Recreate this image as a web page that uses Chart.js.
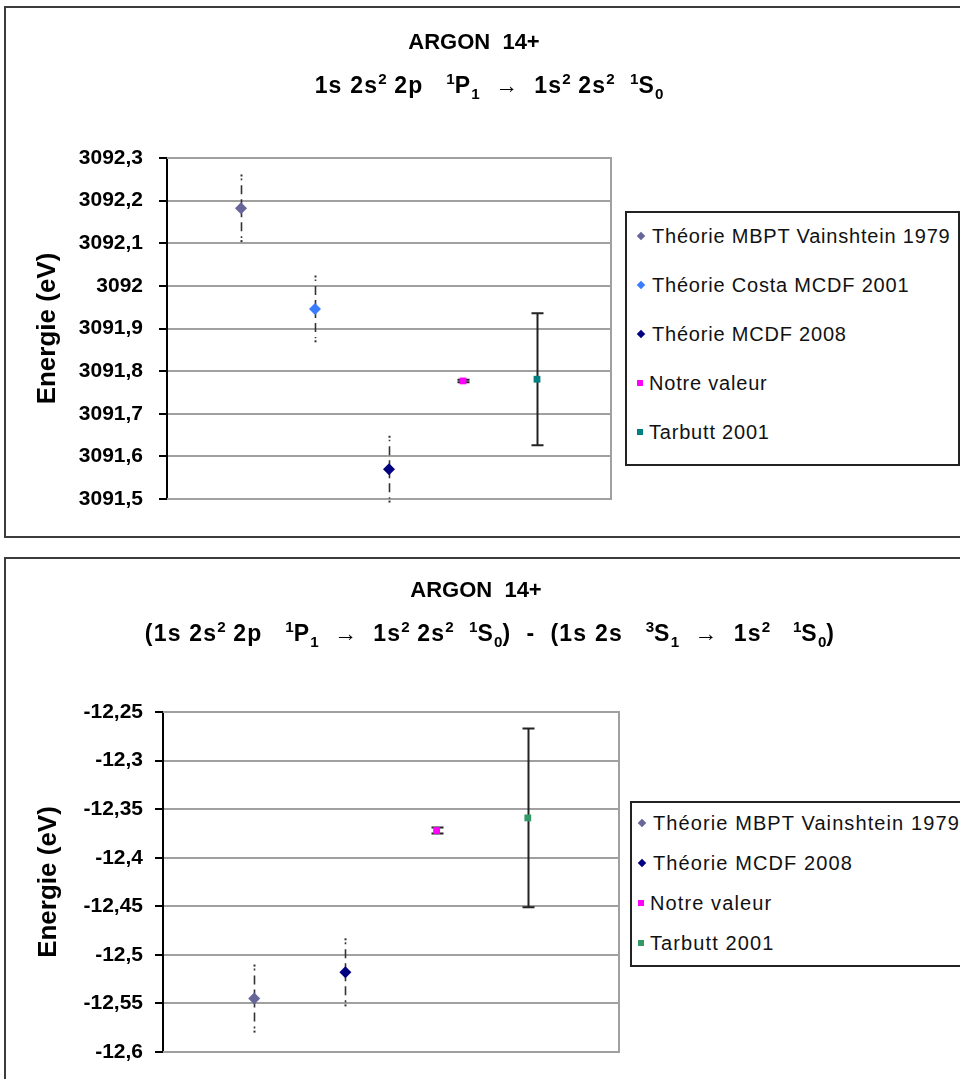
<!DOCTYPE html>
<html><head><meta charset="utf-8">
<script src="https://cdn.jsdelivr.net/npm/chart.js@4/dist/chart.umd.min.js"></script>
<style>
html,body{margin:0;padding:0;background:#fff;width:960px;height:1079px;overflow:hidden;font-family:"Liberation Sans",Arial,sans-serif;}
.box{position:absolute;left:4px;width:1000px;border:2px solid #3c3c3c;box-sizing:border-box;}
#box1{top:6px;height:532px;}
#box2{top:557px;height:580px;}
.wrap{position:absolute;left:0;width:960px;}
#w1{top:0;height:540px;}
#w2{top:540px;height:539px;}
.t{position:absolute;font-weight:bold;font-size:22px;color:#000;text-align:center;white-space:pre;line-height:24px;}
.st{font-size:23px;letter-spacing:1.2px;}
sup,sub{font-size:66%;line-height:0;position:relative;vertical-align:baseline;letter-spacing:0;}
sup{top:-0.62em;} sub{top:0.42em;}
.legend{position:absolute;border:2px solid #222;background:#fff;box-sizing:border-box;color:#111;}
.legend .row{position:absolute;white-space:nowrap;height:26px;line-height:26px;margin-top:-13px;}
.mk{display:inline-block;vertical-align:middle;margin-right:6px;position:relative;top:-2px;}
.mk.d{width:6px;height:6px;transform:rotate(45deg);margin-left:1px;margin-right:8px;}
.mk.s{width:6px;height:6px;}
</style>
</head><body>
<div class="box" id="box1"></div>
<div class="box" id="box2"></div>
<div class="wrap" id="w1"><canvas id="c1"></canvas></div>
<div class="wrap" id="w2"><canvas id="c2"></canvas></div>

<div class="t" style="left:174px;top:30px;width:600px;">ARGON  14+</div>
<div class="t st" style="left:189px;top:73px;width:600px;">1s 2s<sup>2</sup> 2p   <sup>1</sup>P<sub>1</sub>  →  1s<sup>2</sup> 2s<sup>2</sup>  <sup>1</sup>S<sub>0</sub></div>
<div class="t" style="left:176px;top:578px;width:600px;">ARGON  14+</div>
<div class="t st" style="left:40px;top:621px;width:900px;">(1s 2s<sup>2</sup> 2p   <sup>1</sup>P<sub>1</sub>  →  1s<sup>2</sup> 2s<sup>2</sup>  <sup>1</sup>S<sub>0</sub>)  -  (1s 2s   <sup>3</sup>S<sub>1</sub>  →  1s<sup>2</sup>   <sup>1</sup>S<sub>0</sub>)</div>

<div class="legend" id="lg1" style="left:625px;top:211px;width:335px;height:255px;font-size:20px;letter-spacing:0.8px;"></div>
<div class="legend" id="lg2" style="left:630px;top:801px;width:340px;height:166px;font-size:20px;letter-spacing:1.1px;"></div>

<script>
// ---------- data ----------
const topLabels = ['Théorie MBPT Vainshtein 1979','Théorie Costa MCDF 2001','Théorie MCDF 2008','Notre valeur','Tarbutt 2001'];
const topX = [1,2,3,4,5];
const topValues = [3092.182, 3091.946, 3091.570, 3091.777, 3091.781];
const topErrors = [0.077, 0.076, 0.076, 0.003, 0.155];
const topTicks = [3091.5, 3091.6, 3091.7, 3091.8, 3091.9, 3092, 3092.1, 3092.2, 3092.3];

const bottomLabels = ['Théorie MBPT Vainshtein 1979','Théorie MCDF 2008','Notre valeur','Tarbutt 2001'];
const bottomX = [1,2,3,4];
const bottomValues = [-12.545, -12.518, -12.372, -12.359];
const bottomErrors = [0.034, 0.034, 0.003, 0.092];
const bottomTicks = [-12.6, -12.55, -12.5, -12.45, -12.4, -12.35, -12.3, -12.25];

const axisTitle = 'Energie (eV)';

// ---------- styles ----------
const topColors = ['#66669a','#3a7cff','#000080','#ff00ff','#008080'];
const topKinds = ['theory','theory','theory','meas','meas'];
const bottomColors = ['#66669a','#000080','#ff00ff','#339966'];
const bottomKinds = ['theory','theory','meas','meas'];
const FONT = '"Liberation Sans", Arial, sans-serif';

function makeDatasets(labels, xs, vals, errs, colors, kinds){
  return labels.map((l,i)=>({
    label:l,
    data:[{x:xs[i], y:vals[i]}],
    errorBar: errs[i],
    errKind: kinds[i],
    backgroundColor: colors[i],
    borderColor: colors[i],
    borderWidth: 0,
    pointStyle: kinds[i]==='theory' ? 'rectRot' : 'rect',
    pointRadius: kinds[i]==='theory' ? 6 : 4.8,
    showLine:false
  }));
}

const errorPlugin = {
  id:'errbars',
  beforeDatasetsDraw(chart){
    const ctx = chart.ctx, ys = chart.scales.y, xs = chart.scales.x, a = chart.chartArea;
    ctx.save();
    // plot frame (top, right, bottom)
    ctx.strokeStyle = '#a0a0a0'; ctx.lineWidth = 2;
    ctx.beginPath();
    ctx.moveTo(a.left, a.top); ctx.lineTo(a.right, a.top); ctx.lineTo(a.right, a.bottom); ctx.lineTo(a.left, a.bottom);
    ctx.stroke();
    chart.data.datasets.forEach(ds=>{
      const p = ds.data[0];
      const px = Math.round(xs.getPixelForValue(p.x)) + 0.5;
      const py = ys.getPixelForValue(p.y);
      const yt = ys.getPixelForValue(p.y + ds.errorBar);
      const yb = ys.getPixelForValue(p.y - ds.errorBar);
      if (ds.errKind === 'theory') {
        ctx.strokeStyle = '#333'; ctx.fillStyle = '#333'; ctx.lineWidth = 1.6;
        ctx.setLineDash([9,5]);
        ctx.beginPath(); ctx.moveTo(px, py); ctx.lineTo(px, yt + 3); ctx.stroke();
        ctx.beginPath(); ctx.moveTo(px, py); ctx.lineTo(px, yb - 3); ctx.stroke();
        ctx.setLineDash([]);
        ctx.fillRect(px-1, yt-1, 2, 2);
        ctx.fillRect(px-1, yb-1, 2, 2);
      } else {
        ctx.strokeStyle = '#222'; ctx.lineWidth = 2; ctx.setLineDash([]);
        ctx.beginPath();
        ctx.moveTo(px, yt); ctx.lineTo(px, yb);
        ctx.moveTo(px-6, yt); ctx.lineTo(px+6, yt);
        ctx.moveTo(px-6, yb); ctx.lineTo(px+6, yb);
        ctx.stroke();
      }
    });
    ctx.restore();
  }
};

function makeChart(id, datasets, ticks, xmax, pad, axisW, tickPad, titlePad){
  return new Chart(document.getElementById(id), {
    type:'scatter',
    data:{datasets},
    plugins:[errorPlugin],
    options:{
      responsive:true, maintainAspectRatio:false, animation:false, devicePixelRatio:1,
      layout:{padding:pad},
      plugins:{legend:{display:false}, tooltip:{enabled:false}, title:{display:false}},
      scales:{
        x:{type:'linear', min:0, max:xmax, display:false},
        y:{
          min:ticks[0], max:ticks[ticks.length-1],
          afterFit(s){ s.width = axisW; },
          afterBuildTicks(s){ s.ticks = ticks.map(v=>({value:v})); },
          ticks:{ callback:v=>String(v).replace('.', ','), color:'#000', padding:tickPad,
                  font:{family:FONT, weight:'bold', size:21} },
          grid:{ color:'#a0a0a0', lineWidth:2, tickColor:'#000', tickLength:8, tickWidth:2 },
          border:{ display:true, color:'#000', width:2 },
          title:{ display:true, text:axisTitle, color:'#000', padding:{top:titlePad, bottom:0},
                  font:{family:FONT, weight:'bold', size:26} }
        }
      }
    }
  });
}

makeChart('c1', makeDatasets(topLabels, topX, topValues, topErrors, topColors, topKinds),
  topTicks, 6, {left:0, top:158, right:349, bottom:41}, 167, 16, 32);
makeChart('c2', makeDatasets(bottomLabels, bottomX, bottomValues, bottomErrors, bottomColors, bottomKinds),
  bottomTicks, 5, {left:0, top:172, right:341, bottom:27}, 163, 12, 33);

// ---------- HTML legends built from the same arrays ----------
function buildLegend(el, labels, colors, kinds, first, step, left){
  labels.forEach((l,i)=>{
    const r = document.createElement('div');
    r.className = 'row';
    r.style.top = (first + i*step) + 'px';
    r.style.left = left + 'px';
    const m = document.createElement('span');
    m.className = 'mk ' + (kinds[i]==='theory' ? 'd' : 's');
    m.style.background = colors[i];
    r.appendChild(m);
    r.appendChild(document.createTextNode(l));
    el.appendChild(r);
  });
}
buildLegend(document.getElementById('lg1'), topLabels, topColors, topKinds, 23, 49, 10);
buildLegend(document.getElementById('lg2'), bottomLabels, bottomColors, bottomKinds, 20, 40, 6);
</script>
</body></html>
